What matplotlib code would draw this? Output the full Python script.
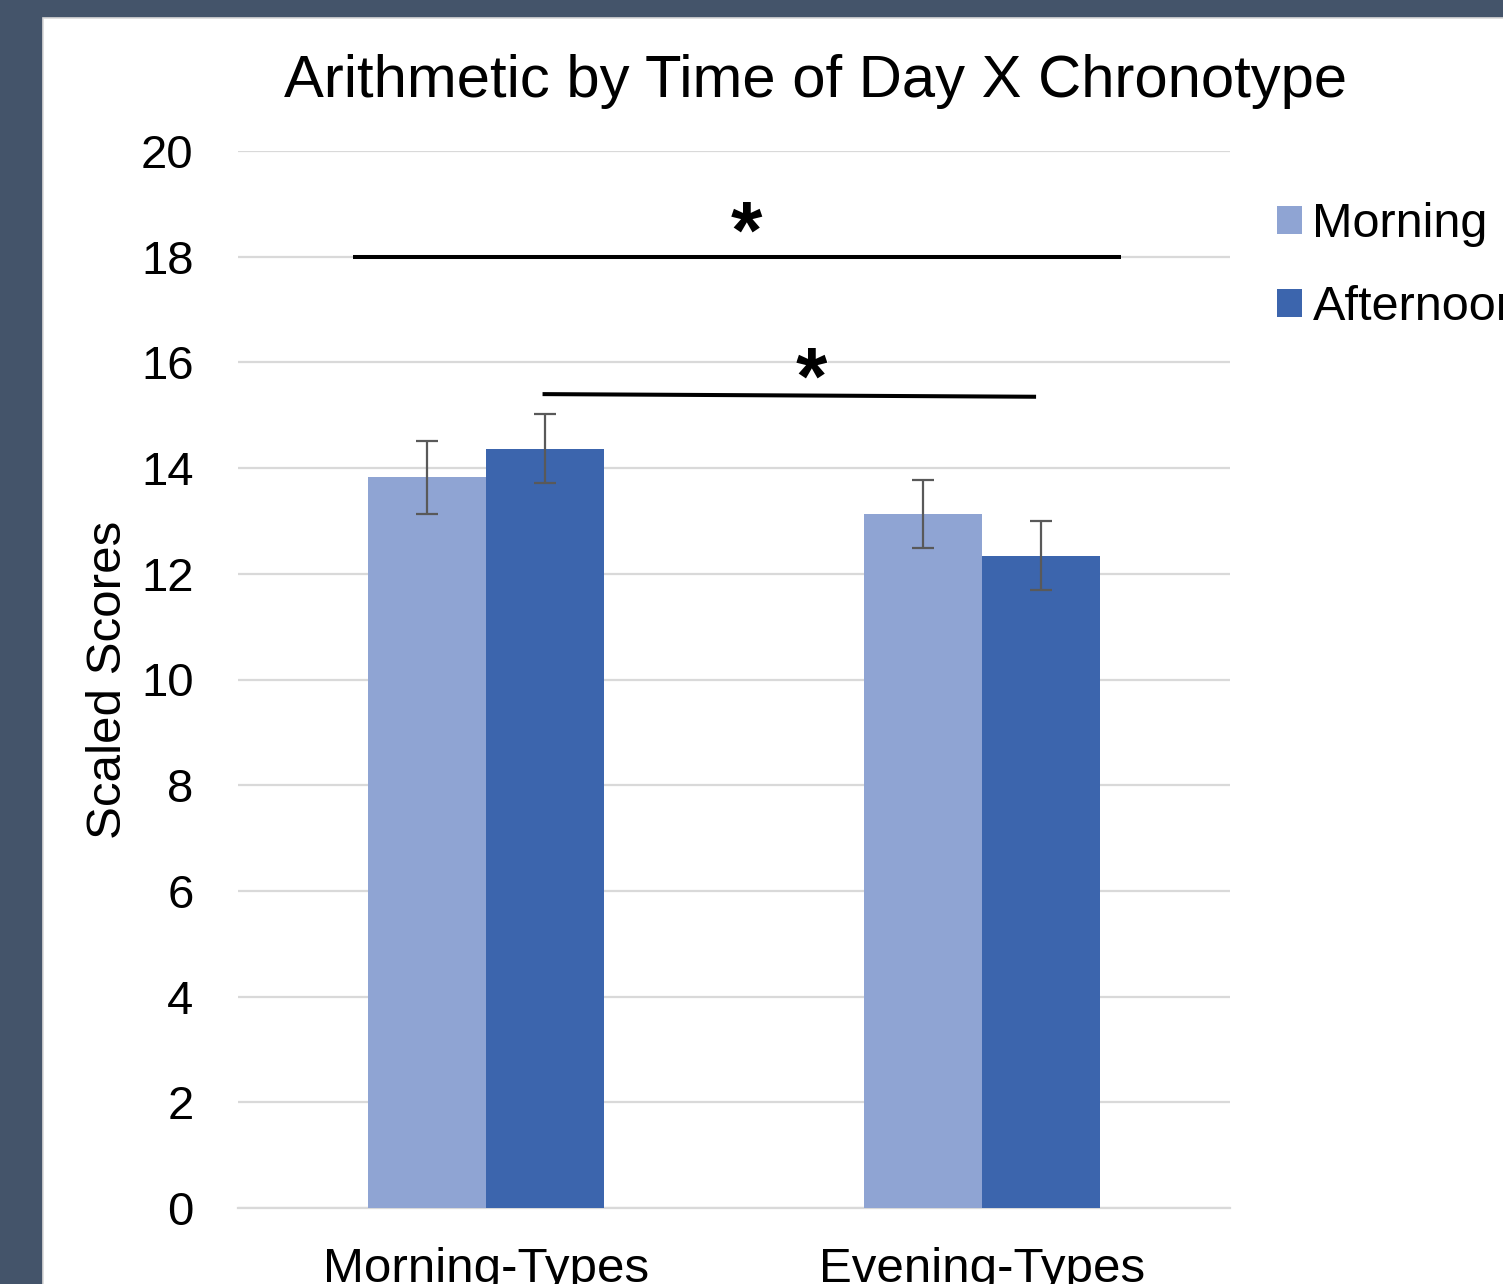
import matplotlib
matplotlib.use("Agg")
import matplotlib.pyplot as plt
from matplotlib.patches import Rectangle
import numpy as np

plt.rcParams['font.family'] = ['Liberation Sans', 'DejaVu Sans']

# ---- data ----
categories = ["Morning-Types", "Evening-Types"]
series_names = ["Morning", "Afternoon"]
morning_scores = [13.83, 13.13]
afternoon_scores = [14.37, 12.34]
morning_err = [0.69, 0.65]
afternoon_err = [0.66, 0.65]
y_ticks = [0, 2, 4, 6, 8, 10, 12, 14, 16, 18, 20]
title = "Arithmetic by Time of Day X Chronotype"
y_label = "Scaled Scores"
sig_label = "*"

# ---- style ----
col_morning = "#8FA4D3"
col_afternoon = "#3C65AD"
slate = "#44546A"
grid_col = "#D9D9D9"
err_col = "#595959"

W, H = 1503, 1284
fig = plt.figure(figsize=(W / 100, H / 100), dpi=100)
fig.patch.set_facecolor(slate)

# white chart panel
panel = Rectangle((43 / W, -0.05), 1.2, 1 - 18 / H + 0.05, transform=fig.transFigure,
                  facecolor="white", edgecolor=grid_col, linewidth=1.2, zorder=-10)
fig.patches.append(panel)

ax = fig.add_axes([238 / W, 1 - 1208 / H, 992 / W, (1208 - 151) / H])
ax.set_facecolor("none")
ax.set_zorder(1)

x = np.arange(len(categories))
bw = 0.238
b1 = ax.bar(x - bw / 2, morning_scores, bw, color=col_morning, label=series_names[0], zorder=2)
b2 = ax.bar(x + bw / 2, afternoon_scores, bw, color=col_afternoon, label=series_names[1], zorder=2)
ax.errorbar(x - bw / 2, morning_scores, yerr=morning_err, fmt="none", ecolor=err_col,
            elinewidth=1.6, capsize=8, capthick=1.6, zorder=3)
ax.errorbar(x + bw / 2, afternoon_scores, yerr=afternoon_err, fmt="none", ecolor=err_col,
            elinewidth=1.6, capsize=8, capthick=1.6, zorder=3)

ax.set_xlim(-0.5, 1.5)
ax.set_ylim(0, 20)
ax.set_yticks(y_ticks)
ax.set_yticklabels([str(t) for t in y_ticks])
ax.yaxis.grid(True, color=grid_col, linewidth=1.6, zorder=0)
ax.set_axisbelow(True)
for s in ["top", "right", "left"]:
    ax.spines[s].set_visible(False)
ax.spines["bottom"].set_color(grid_col)
ax.spines["bottom"].set_linewidth(1.6)
ax.spines["bottom"].set_zorder(1)
ax.tick_params(axis="y", length=0, pad=32, labelsize=34)
ax.tick_params(axis="x", length=0, pad=28, labelsize=35.5)
ax.set_xticks(x)
ax.set_xticklabels(categories)

# significance markers
ax.plot([-0.268, 1.280], [18.0, 18.0], color="black", lw=2.9, solid_capstyle="butt", zorder=4)
ax.plot([0.114, 1.109], [15.40, 15.35], color="black", lw=2.9, solid_capstyle="butt", zorder=4)
ax.text(0.525, 18.38, sig_label, ha="center", va="center", fontsize=58, fontweight="bold",
        zorder=3.5)
ax.text(0.657, 15.61, sig_label, ha="center", va="center", fontsize=58, fontweight="bold",
        zorder=3.5, bbox=dict(facecolor="white", edgecolor="none", pad=0))

# title & y label
fig.text(816 / W, 1 - 97 / H, title, ha="center", va="baseline", fontsize=43)
fig.text(109 / W, 1 - 680 / H, y_label, rotation=90, ha="center", va="center", fontsize=35.5)

# legend
ax.legend(handles=[b1, b2], loc="upper left", bbox_to_anchor=(1277 / W, 1 - 202 / H),
          bbox_transform=fig.transFigure, frameon=False, fontsize=35,
          handlelength=0.51, handleheight=0.51, handletextpad=0.22, labelspacing=0.78,
          borderpad=0, borderaxespad=0)

fig.savefig("out.png", dpi=100, facecolor=fig.get_facecolor())
